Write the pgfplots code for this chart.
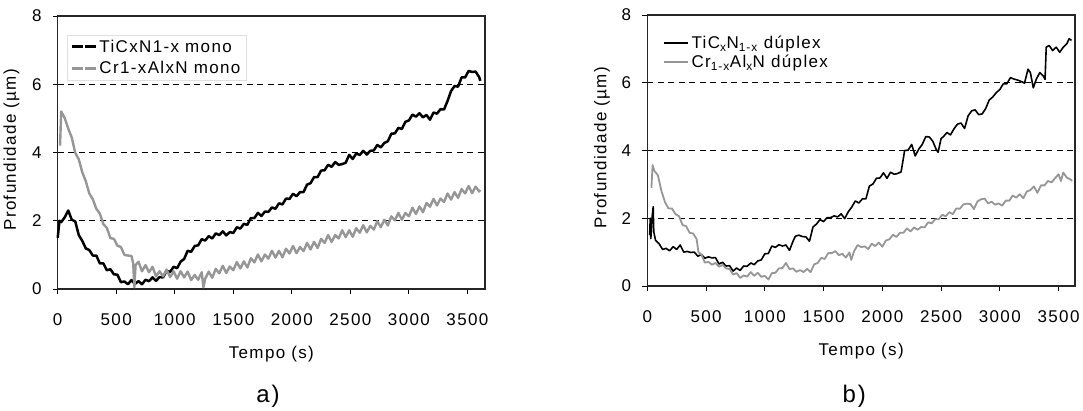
\documentclass[border=0pt]{standalone}
\usepackage{fontspec}
\setmainfont{Liberation Sans}[LetterSpace=8]
\usepackage{pgfplots}
\pgfplotsset{compat=1.18}
\definecolor{curvegray}{RGB}{150,150,150}
\newcommand{\fs}{\fontsize{17}{20}\selectfont}
\pgfplotsset{
  panel/.style={
    scale only axis,
    xmin=0, ymin=0, ymax=8,
    xtick={0,500,...,3500}, ytick={0,2,4,6,8},
    xtick pos=left, ytick pos=left,
    tick align=outside, major tick length=5pt,
    tick style={black, line width=1pt},
    axis line style={black!85, line width=1.3pt},
    ymajorgrids,
    grid style={black, line width=0.9pt, dash pattern=on 6pt off 4.5pt},
    /pgf/number format/assume math mode=true,
    /pgf/number format/1000 sep={},
    tick label style={font=\fs},
    xticklabel style={anchor=north, inner sep=0pt, yshift=-19pt},
    yticklabel style={anchor=east, inner sep=0pt, xshift=-11pt},
    label style={font=\fs},
    xlabel={Tempo (s)},
    ylabel={Profundidade (µm)},
    xlabel style={at={(axis description cs:0.5,0)}, anchor=center, yshift=-65pt},
    clip=false,
    legend cell align=left,
  }
}
\begin{document}
\begin{tikzpicture}
\path[use as bounding box] (0,0) rectangle (1083pt,410pt);
% ---------------- a) ----------------
\begin{axis}[panel,
  at={(57.7pt,121pt)}, anchor=south west,
  width=427.3pt, height=273pt, xmax=3650,
  ylabel style={at={(axis description cs:-0.108,0.51)}, anchor=center},
  legend style={at={(axis description cs:0.022,0.93)}, anchor=north west,
    draw=black!12, font=\fs, inner xsep=3pt, inner ysep=2pt, row sep=3pt,
    nodes={inner sep=2.5pt}},
  legend image code/.code={\draw[#1, line width=2.6pt, dash pattern=on 11pt off 2pt] (0pt,0pt) -- (24pt,0pt);},
]
\addplot[black, line width=2.5pt, line join=round] coordinates {
(0,1.50)(15,2.00)(30,1.96)(60,2.10)(90,2.30)(120,2.03)(150,1.98)(180,1.58)(210,1.41)(240,1.19)
(270,1.14)(300,0.98)(330,0.98)(360,0.75)(390,0.75)(420,0.55)(450,0.58)(480,0.43)(510,0.42)(540,0.20)
(570,0.22)(600,0.14)(630,0.26)(660,0.15)(690,0.23)(720,0.14)(750,0.27)(780,0.23)(810,0.34)(840,0.24)
(870,0.35)(900,0.34)(930,0.53)(960,0.50)(990,0.65)(1020,0.61)(1050,0.80)(1080,0.88)(1110,1.12)(1140,1.09)
(1170,1.26)(1200,1.28)(1230,1.46)(1260,1.42)(1290,1.55)(1320,1.48)(1350,1.63)(1380,1.58)(1410,1.69)(1440,1.57)
(1470,1.67)(1500,1.64)(1530,1.81)(1560,1.77)(1590,1.91)(1620,1.88)(1650,2.08)(1680,2.08)(1710,2.23)(1740,2.14)
(1770,2.27)(1800,2.26)(1830,2.39)(1860,2.35)(1890,2.51)(1920,2.48)(1950,2.65)(1980,2.64)(2010,2.79)(2040,2.72)
(2070,2.84)(2100,2.84)(2130,3.06)(2160,3.10)(2190,3.28)(2220,3.28)(2250,3.47)(2280,3.48)(2310,3.64)(2340,3.58)
(2370,3.72)(2400,3.64)(2430,3.66)(2460,3.70)(2490,3.93)(2520,3.81)(2550,3.97)(2580,3.93)(2610,4.05)(2640,3.94)
(2670,4.05)(2700,4.06)(2730,4.22)(2760,4.15)(2790,4.28)(2820,4.33)(2850,4.55)(2880,4.56)(2910,4.72)(2940,4.69)
(2970,4.90)(3000,4.94)(3030,5.11)(3060,5.05)(3090,5.15)(3120,5.03)(3150,5.10)(3180,4.96)(3210,5.17)(3240,5.14)
(3270,5.27)(3300,5.26)(3330,5.51)(3360,5.80)(3390,5.95)(3420,5.93)(3450,6.20)(3480,6.20)(3510,6.39)(3540,6.36)
(3570,6.37)(3600,6.21)(3610,6.10)
};
\addlegendentry{TiCxN1-x mono}
\addplot[curvegray, line width=2.4pt, line join=round] coordinates {
(20,4.20)(30,5.20)(60,5.01)(90,4.70)(120,4.44)(150,3.99)(180,3.80)(210,3.42)(240,3.16)(270,2.80)
(300,2.63)(330,2.35)(360,2.21)(390,1.90)(420,1.79)(450,1.49)(480,1.47)(510,1.27)(540,1.23)(570,1.00)
(600,0.98)(630,0.97)(645,0.75)(655,0.05)(665,0.70)(690,0.80)(720,0.52)(750,0.70)(780,0.49)(810,0.65)
(840,0.37)(870,0.52)(900,0.37)(930,0.57)(960,0.35)(990,0.52)(1020,0.30)(1050,0.52)(1080,0.34)(1110,0.51)
(1140,0.26)(1170,0.41)(1200,0.27)(1230,0.49)(1245,0.05)(1260,0.30)(1290,0.51)(1320,0.33)(1350,0.59)(1380,0.46)
(1410,0.68)(1440,0.47)(1470,0.66)(1500,0.55)(1530,0.79)(1560,0.60)(1590,0.81)(1620,0.63)(1650,0.90)(1680,0.78)
(1710,1.01)(1740,0.81)(1770,1.01)(1800,0.89)(1830,1.12)(1860,0.92)(1890,1.12)(1920,0.93)(1950,1.18)(1980,1.04)
(2010,1.26)(2040,1.05)(2070,1.23)(2100,1.11)(2130,1.35)(2160,1.16)(2190,1.38)(2220,1.20)(2250,1.47)(2280,1.35)
(2310,1.58)(2340,1.38)(2370,1.58)(2400,1.48)(2430,1.72)(2460,1.52)(2490,1.72)(2520,1.53)(2550,1.78)(2580,1.65)
(2610,1.87)(2640,1.66)(2670,1.85)(2700,1.74)(2730,1.99)(2760,1.81)(2790,2.03)(2820,1.86)(2850,2.13)(2880,2.01)
(2910,2.23)(2940,2.03)(2970,2.23)(3000,2.13)(3030,2.38)(3060,2.20)(3090,2.42)(3120,2.25)(3150,2.52)(3180,2.41)
(3210,2.64)(3240,2.45)(3270,2.65)(3300,2.55)(3330,2.80)(3360,2.62)(3390,2.84)(3420,2.67)(3450,2.93)(3480,2.80)
(3510,3.02)(3540,2.81)(3570,3.00)(3600,2.86)(3610,2.90)
};
\addlegendentry{Cr1-xAlxN mono}
\node[font=\fontsize{24}{28}\selectfont] at (rel axis cs:0.492,-0.392) {a)};
\end{axis}
% ---------------- b) ----------------
\begin{axis}[panel,
  at={(647.3pt,124pt)}, anchor=south west,
  width=427.7pt, height=271pt, xmax=3640,
  ylabel style={at={(axis description cs:-0.106,0.51)}, anchor=center},
  legend style={at={(axis description cs:0.028,0.94)}, anchor=north west,
    draw=none, fill=white, font=\fs, inner xsep=3pt, inner ysep=2pt, row sep=0pt,
    nodes={inner sep=2.5pt}},
  legend image code/.code={\draw[#1, line width=2.6pt] (0pt,0pt) -- (24pt,0pt);},
]
\addplot[black, line width=1.6pt, line join=round] coordinates {
(20,1.50)(25,2.00)(30,1.40)(40,2.00)(50,2.34)(55,1.60)(70,1.35)(100,1.25)(130,1.08)(160,1.11)
(190,1.04)(220,1.16)(250,1.08)(280,1.21)(310,1.00)(340,1.02)(370,0.99)(400,1.00)(430,0.88)(460,0.93)
(490,0.82)(520,0.86)(550,0.83)(580,0.84)(610,0.65)(640,0.70)(670,0.59)(700,0.60)(730,0.44)(760,0.53)
(790,0.46)(820,0.59)(850,0.58)(880,0.68)(910,0.63)(940,0.74)(970,0.77)(1000,0.95)(1030,0.96)(1060,1.18)
(1090,1.14)(1120,1.22)(1150,1.18)(1180,1.21)(1210,1.05)(1240,1.32)(1260,1.47)(1290,1.50)(1320,1.46)(1350,1.45)
(1380,1.32)(1410,1.74)(1440,1.83)(1470,1.96)(1500,1.90)(1530,2.02)(1560,2.02)(1590,2.07)(1620,2.04)(1650,2.13)
(1680,1.99)(1710,2.19)(1740,2.33)(1770,2.51)(1800,2.45)(1830,2.57)(1860,2.57)(1890,2.95)(1920,3.01)(1950,3.18)
(1980,3.19)(2010,3.34)(2040,3.18)(2070,3.36)(2100,3.30)(2130,3.32)(2160,3.37)(2190,4.00)(2220,4.01)(2250,4.18)
(2280,3.84)(2310,4.04)(2340,4.18)(2370,4.41)(2400,4.40)(2430,4.27)(2460,4.02)(2475,3.95)(2500,4.35)(2520,4.41)
(2550,4.53)(2580,4.46)(2610,4.64)(2640,4.78)(2670,4.81)(2700,4.65)(2730,5.02)(2760,5.17)(2790,5.20)(2820,5.06)
(2850,5.08)(2880,5.24)(2910,5.49)(2940,5.58)(2970,5.71)(3000,5.80)(3030,5.97)(3060,5.97)(3090,6.15)(3120,6.11)
(3150,6.08)(3180,6.04)(3210,5.99)(3240,6.40)(3260,6.30)(3285,5.85)(3310,6.10)(3340,6.30)(3370,6.20)(3385,6.10)
(3395,7.05)(3420,7.10)(3450,6.95)(3480,7.05)(3510,6.90)(3540,7.05)(3570,7.15)(3590,7.30)(3610,7.25)
};
\addlegendentry{TiC\textsubscript{x}N\textsubscript{1-x} dúplex}
\addplot[curvegray, line width=1.8pt, line join=round] coordinates {
(35,2.90)(45,3.57)(60,3.40)(90,3.27)(120,2.81)(150,2.48)(180,2.29)(210,2.29)(240,2.12)(270,2.06)
(300,1.80)(330,1.77)(360,1.57)(390,1.55)(420,1.38)(435,1.00)(460,0.93)(490,0.69)(520,0.71)(550,0.63)
(580,0.68)(610,0.57)(640,0.62)(670,0.52)(700,0.50)(730,0.34)(760,0.38)(790,0.24)(820,0.31)(850,0.28)
(880,0.41)(910,0.30)(940,0.39)(970,0.27)(1000,0.30)(1030,0.19)(1060,0.38)(1090,0.39)(1120,0.52)(1150,0.53)
(1180,0.68)(1210,0.50)(1240,0.52)(1270,0.42)(1300,0.47)(1330,0.41)(1360,0.51)(1390,0.41)(1420,0.64)(1450,0.68)
(1480,0.83)(1510,0.80)(1540,0.97)(1570,0.97)(1600,1.03)(1630,0.91)(1660,0.95)(1690,0.84)(1720,0.99)(1735,0.77)
(1760,1.03)(1790,1.21)(1820,1.15)(1850,1.17)(1880,1.09)(1910,1.25)(1940,1.18)(1970,1.28)(2000,1.16)(2030,1.34)
(2060,1.38)(2090,1.51)(2120,1.45)(2150,1.57)(2180,1.57)(2210,1.70)(2240,1.61)(2270,1.73)(2300,1.66)(2330,1.74)
(2360,1.73)(2390,1.88)(2420,1.85)(2450,1.97)(2480,1.97)(2510,2.10)(2540,2.06)(2570,2.18)(2600,2.12)(2630,2.29)
(2660,2.28)(2690,2.41)(2720,2.43)(2750,2.42)(2780,2.27)(2810,2.50)(2840,2.56)(2870,2.58)(2900,2.44)(2930,2.49)
(2960,2.40)(2990,2.44)(3020,2.37)(3050,2.52)(3080,2.52)(3110,2.67)(3140,2.61)(3170,2.71)(3200,2.59)(3230,2.79)
(3260,2.83)(3290,2.94)(3320,2.75)(3350,2.97)(3380,2.97)(3410,3.10)(3440,3.06)(3470,3.18)(3500,3.30)(3520,3.10)
(3540,3.35)(3570,3.20)(3600,3.15)(3615,3.10)
};
\addlegendentry{Cr\textsubscript{1-x}Al\textsubscript{x}N dúplex}
\node[font=\fontsize{24}{28}\selectfont] at (rel axis cs:0.484,-0.406) {b)};
\end{axis}
\end{tikzpicture}
\end{document}
